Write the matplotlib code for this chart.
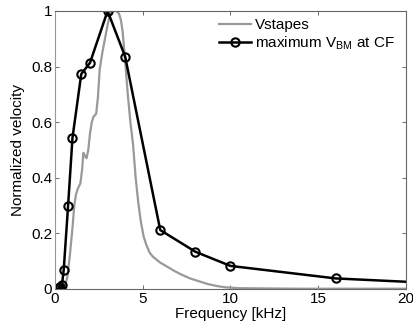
import numpy as np
import matplotlib
matplotlib.use("Agg")
import matplotlib.pyplot as plt

plt.rcParams['font.family'] = ['Liberation Sans', 'DejaVu Sans']
plt.rcParams['font.size'] = 11

# stapes velocity (normalized)
f_stapes = [0, 0.3, 0.55, 0.7, 0.85, 1.0, 1.1, 1.2, 1.3, 1.45, 1.55, 1.62, 1.7, 1.8,
            1.9, 2.0, 2.1, 2.2, 2.35, 2.45, 2.55, 2.7, 2.85, 3.0, 3.15, 3.3, 3.5, 3.65,
            3.75, 3.85, 3.95, 4.05, 4.15, 4.3, 4.45, 4.6, 4.75, 4.9, 5.05, 5.2, 5.4,
            5.6, 5.8, 6.0, 6.4, 6.8, 7.2, 7.7, 8.2, 8.7, 9.2, 9.7, 10.5, 12, 14, 16, 18, 20]
v_stapes = [0, 0, 0.01, 0.04, 0.12, 0.22, 0.30, 0.34, 0.36, 0.38, 0.43, 0.49, 0.48, 0.47,
            0.50, 0.56, 0.60, 0.62, 0.63, 0.69, 0.79, 0.85, 0.90, 0.95, 0.99, 1.0, 1.0, 0.99,
            0.97, 0.93, 0.86, 0.78, 0.70, 0.60, 0.52, 0.40, 0.31, 0.24, 0.19, 0.16, 0.13,
            0.115, 0.105, 0.095, 0.08, 0.065, 0.052, 0.038, 0.028, 0.018, 0.011, 0.006,
            0.003, 0.002, 0.001, 0.001, 0.001, 0.001]

# maximum BM velocity at characteristic frequency
f_bm = [0.1, 0.2, 0.25, 0.3, 0.4, 0.5, 0.75, 1, 1.5, 2, 3, 4, 6, 8, 10, 16, 24]
v_bm = [0, 0.002, 0.003, 0.006, 0.015, 0.068, 0.30, 0.544, 0.773, 0.814, 1.0, 0.836,
        0.212, 0.134, 0.083, 0.038, 0.014]

fig = plt.figure(figsize=(4.13, 3.29), dpi=100)
ax = fig.add_axes([0.133, 0.1216, 0.85, 0.845])

ax.plot(f_stapes, v_stapes, color='#999999', lw=1.6, label='Vstapes')
ax.plot(f_bm, v_bm, color='black', lw=1.8, marker='o', markersize=6,
        markerfacecolor='none', markeredgewidth=1.5,
        label=r'maximum V$_\mathregular{BM}$ at CF')

ax.set_xlim(0, 20)
ax.set_ylim(0, 1)
ax.set_xticks([0, 5, 10, 15, 20])
ax.set_yticks([0, 0.2, 0.4, 0.6, 0.8, 1])
ax.set_yticklabels(['0', '0.2', '0.4', '0.6', '0.8', '1'])
ax.tick_params(direction='in', top=True, right=True, length=3, width=0.6,
               color='#555555', pad=2)
for s in ax.spines.values():
    s.set_color('#666666')
    s.set_linewidth(0.8)
ax.spines['left'].set_color('#999999')

ax.set_xlabel('Frequency [kHz]', labelpad=1)
ax.set_ylabel('Normalized velocity', labelpad=4)

ax.legend(loc='upper left', frameon=False, handlelength=2.1, handletextpad=0.3,
          borderaxespad=0, borderpad=0, labelspacing=0.15, fontsize=11,
          bbox_to_anchor=(0.466, 0.975))

fig.savefig('out.png', dpi=100)
